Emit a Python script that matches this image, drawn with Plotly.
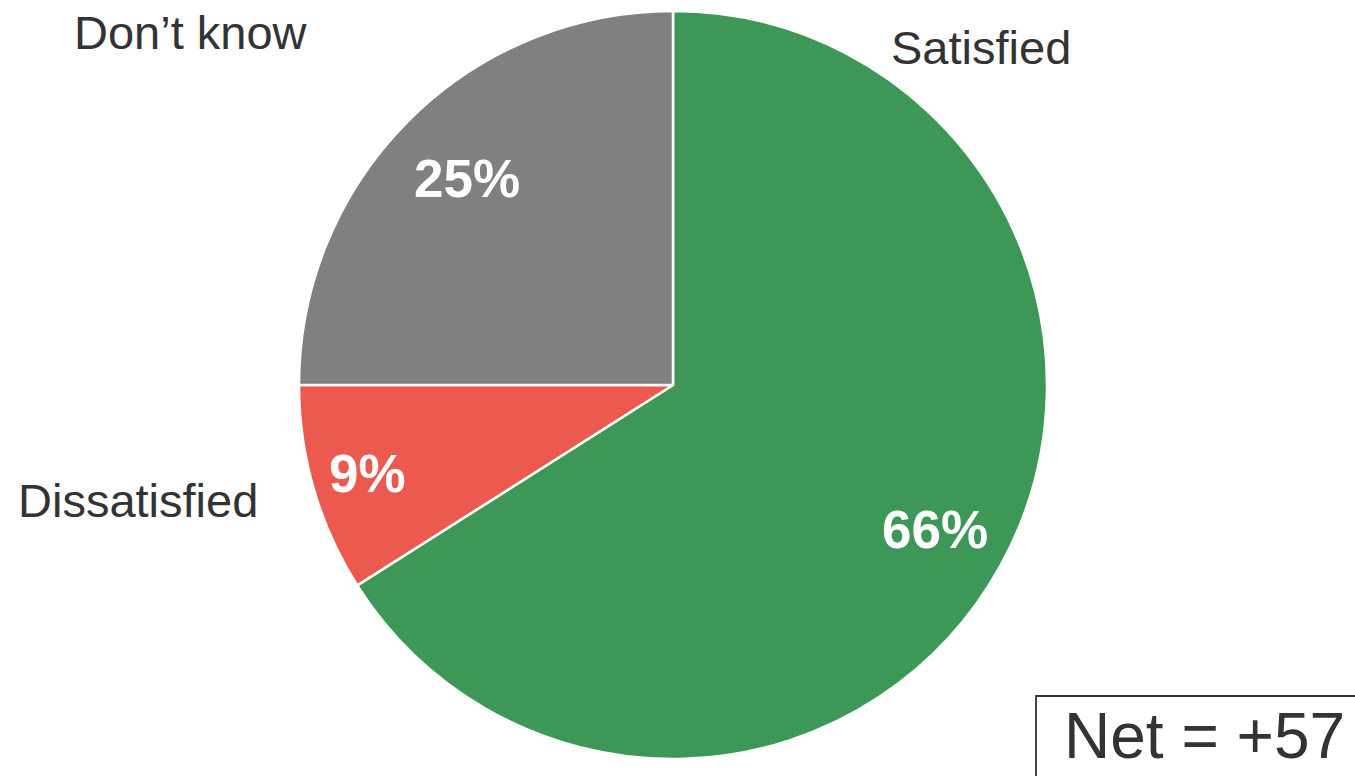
import math
import plotly.graph_objects as go

labels = ["Satisfied", "Dissatisfied", "Don\u2019t know"]
values = [66, 9, 25]
colors = ["#3D9858", "#EC5A4F", "#808080"]
pct_dist = [0.80, 0.85, 0.78]
net_label = "Net = +57"

W, H = 1355, 776


def fx(px):
    return px / W


def fy(py):
    return 1 - py / H


cx, cy, R = 673, 385, 374  # pixel center / radius of the pie

fig = go.Figure()
fig.add_trace(go.Pie(
    labels=labels, values=values, sort=False, direction="clockwise", rotation=0,
    marker=dict(colors=colors, line=dict(color="white", width=2.5)),
    textinfo="none", hoverinfo="label+percent", showlegend=False,
    domain=dict(x=[fx(cx - R), fx(cx + R)], y=[fy(cy + R), fy(cy - R)]),
))

ann = []
total = sum(values)
start = 0.0
for lab, v, d in zip(labels, values, pct_dist):
    frac = v / total
    mid = (start + frac / 2) * 2 * math.pi
    start += frac
    px = cx + d * R * math.sin(mid)
    py = cy - d * R * math.cos(mid)
    ann.append(dict(x=fx(px), y=fy(py), xref="paper", yref="paper",
                    text=f"<b>{round(frac * 100)}%</b>", showarrow=False,
                    font=dict(family="Liberation Sans, Arial", size=53, color="white"),
                    xanchor="center", yanchor="middle"))

label_pos = {"Satisfied": (981, 47), "Dissatisfied": (138, 500), "Don\u2019t know": (191, 33)}
for lab in labels:
    px, py = label_pos[lab]
    ann.append(dict(x=fx(px), y=fy(py), xref="paper", yref="paper", text=lab,
                    showarrow=False, xanchor="center", yanchor="middle",
                    font=dict(family="Liberation Sans, Arial", size=47, color="#333333")))

ann.append(dict(x=fx(1204), y=fy(736), xref="paper", yref="paper", text=net_label,
                showarrow=False, xanchor="center", yanchor="middle",
                font=dict(family="Liberation Sans, Arial", size=64, color="#333333")))

fig.update_layout(
    width=W, height=H, margin=dict(l=0, r=0, t=0, b=0),
    paper_bgcolor="white", plot_bgcolor="white",
    annotations=ann,
    shapes=[dict(type="rect", xref="paper", yref="paper",
                 x0=fx(1036), x1=1.3, y0=-0.3, y1=fy(696),
                 line=dict(color="#333333", width=1.8), fillcolor="rgba(0,0,0,0)")],
)
fig.write_html(
    "out.html",
    config={"displayModeBar": False},
    post_script="document.body.style.margin='0';document.body.style.overflow='hidden';",
)
